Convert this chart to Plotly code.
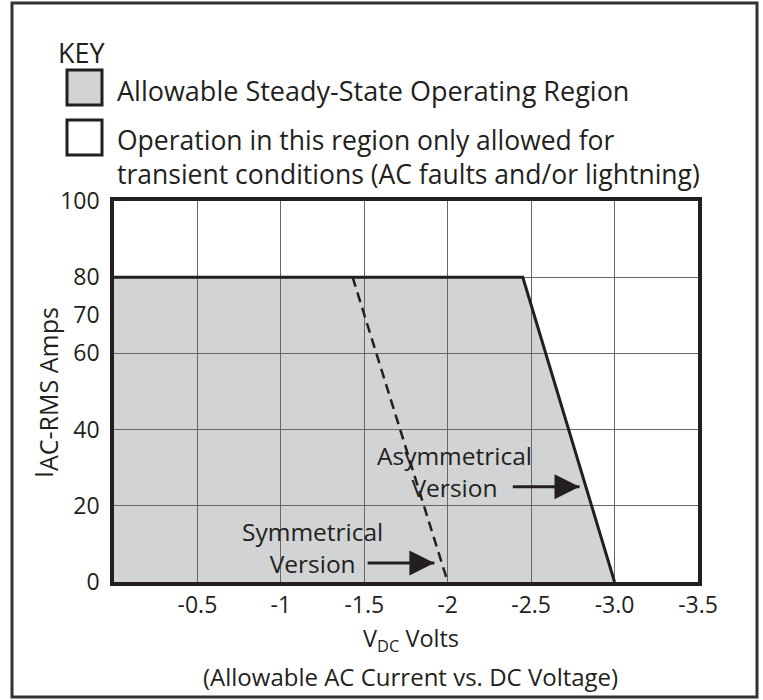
import plotly.graph_objects as go

# ---------------- data ----------------
x_tick_vals = [-0.5, -1.0, -1.5, -2.0, -2.5, -3.0, -3.5]
x_tick_text = ["-0.5", "-1", "-1.5", "-2", "-2.5", "-3.0", "-3.5"]
y_tick_vals = [0, 20, 40, 60, 70, 80, 100]
y_tick_text = ["0", "20", "40", "60", "70", "80", "100"]
y_grid_vals = [20, 40, 60, 80]

steady_v = [0.0, 0.0, -2.45, -3.0, 0.0]   # allowable steady-state region (polygon)
steady_i = [0, 80, 80, 0, 0]
asym_v = [0.0, -2.45, -3.0]                # asymmetrical version boundary
asym_i = [80, 80, 0]
sym_v = [-1.43, -2.0]                      # symmetrical version boundary
sym_i = [80, 0]

asym_arrow_v = [-2.39, -2.79]              # pointer arrows (tail, tip)
asym_arrow_i = [25, 25]
sym_arrow_v = [-1.52, -1.92]
sym_arrow_i = [5, 5]

# ---------------- layout geometry ----------------
W, H = 763, 700
L, R, T, B = 114, 698, 201, 582
FONT = "Open Sans"
TXT = "#231f20"
GRAY = "#d1d3d4"


def px(x):
    return (x - L) / (R - L)


def py(y):
    return (B - y) / (B - T)


fig = go.Figure()

fig.add_trace(go.Scatter(
    x=steady_v, y=steady_i, mode="lines", fill="toself",
    fillcolor="rgba(102,108,112,0.3)", line=dict(width=0),
    hoverinfo="skip", showlegend=False))
fig.add_trace(go.Scatter(
    x=asym_v, y=asym_i, mode="lines",
    line=dict(color=TXT, width=3), showlegend=False))
fig.add_trace(go.Scatter(
    x=sym_v, y=sym_i, mode="lines",
    line=dict(color=TXT, width=2.5, dash="10px,6px"), showlegend=False))
for av, ai in ((asym_arrow_v, asym_arrow_i), (sym_arrow_v, sym_arrow_i)):
    fig.add_trace(go.Scatter(
        x=av, y=ai, mode="lines",
        line=dict(color=TXT, width=3), showlegend=False))
    fig.add_trace(go.Scatter(
        x=av[1:], y=ai[1:], mode="markers",
        marker=dict(symbol="arrow-right", size=25, color=TXT,
                    line=dict(width=0)),
        showlegend=False))

ann = []


def text(x, y, s, size=27, xanchor="left", **kw):
    ann.append(dict(x=px(x), y=py(y), xref="paper", yref="paper", text=s,
                    showarrow=False, xanchor=xanchor, yanchor="middle",
                    font=dict(family=FONT, size=size, color=TXT), **kw))


text(56, 52, "KEY")
text(115, 91, "Allowable Steady-State Operating Region")
text(115, 157, "Operation in this region only allowed for<br>"
               "transient conditions (AC faults and/or lightning)",
     size=26.5, align="left")

text(455, 472, "Asymmetrical<br>Version", size=24.5, xanchor="center",
     align="center")
text(312, 547, "Symmetrical<br>Version", size=24.5, xanchor="center",
     align="center")

text(411, 639, "V<sub>DC</sub> Volts", size=23.5, xanchor="center")
text(410, 676, "(Allowable AC Current vs. DC Voltage)", size=24, xanchor="center")
text(45, 393, "I<sub><span style='font-size:25px'>AC-RMS Amps</span></sub>",
     size=25, xanchor="center", textangle=-90)

shapes = [
    dict(type="rect", xref="paper", yref="paper", x0=px(12), x1=px(757),
         y0=py(3), y1=py(697), line=dict(color="#333333", width=3)),
    dict(type="rect", xref="paper", yref="paper", x0=px(67), x1=px(102),
         y0=py(70), y1=py(105), fillcolor=GRAY, line=dict(color=TXT, width=3)),
    dict(type="rect", xref="paper", yref="paper", x0=px(67), x1=px(102),
         y0=py(120), y1=py(155), fillcolor="white", line=dict(color=TXT, width=3)),
]

fig.update_layout(
    width=W, height=H, autosize=False,
    margin=dict(l=L, r=W - R, t=T, b=H - B, pad=0),
    paper_bgcolor="white", plot_bgcolor="white",
    annotations=ann, shapes=shapes, showlegend=False,
    font=dict(family=FONT, color=TXT),
)
fig.update_xaxes(
    range=[0, -3.5], tickvals=x_tick_vals, ticktext=x_tick_text,
    tickfont=dict(family=FONT, size=23, color=TXT), ticks="", ticklen=0,
    ticklabelstandoff=0,
    showgrid=True, gridcolor="#666666", gridwidth=1.2,
    showline=True, linecolor=TXT, linewidth=3.5, mirror=True,
    zeroline=False, layer="above traces",
)
fig.update_yaxes(
    range=[0, 100], tickvals=y_tick_vals, ticktext=y_tick_text,
    tickfont=dict(family=FONT, size=23, color=TXT), ticks="", ticklen=0,
    ticklabelstandoff=6,
    showgrid=False,
    minor=dict(tickvals=y_grid_vals, showgrid=True, gridcolor="#666666",
               gridwidth=1.2, ticks=""),
    showline=True, linecolor=TXT, linewidth=3.5, mirror=True,
    zeroline=False, layer="above traces",
)

fig.write_html(
    "out.html",
    config={"displayModeBar": False},
    post_script="document.body.style.margin='0';document.body.style.overflow='hidden';",
)
